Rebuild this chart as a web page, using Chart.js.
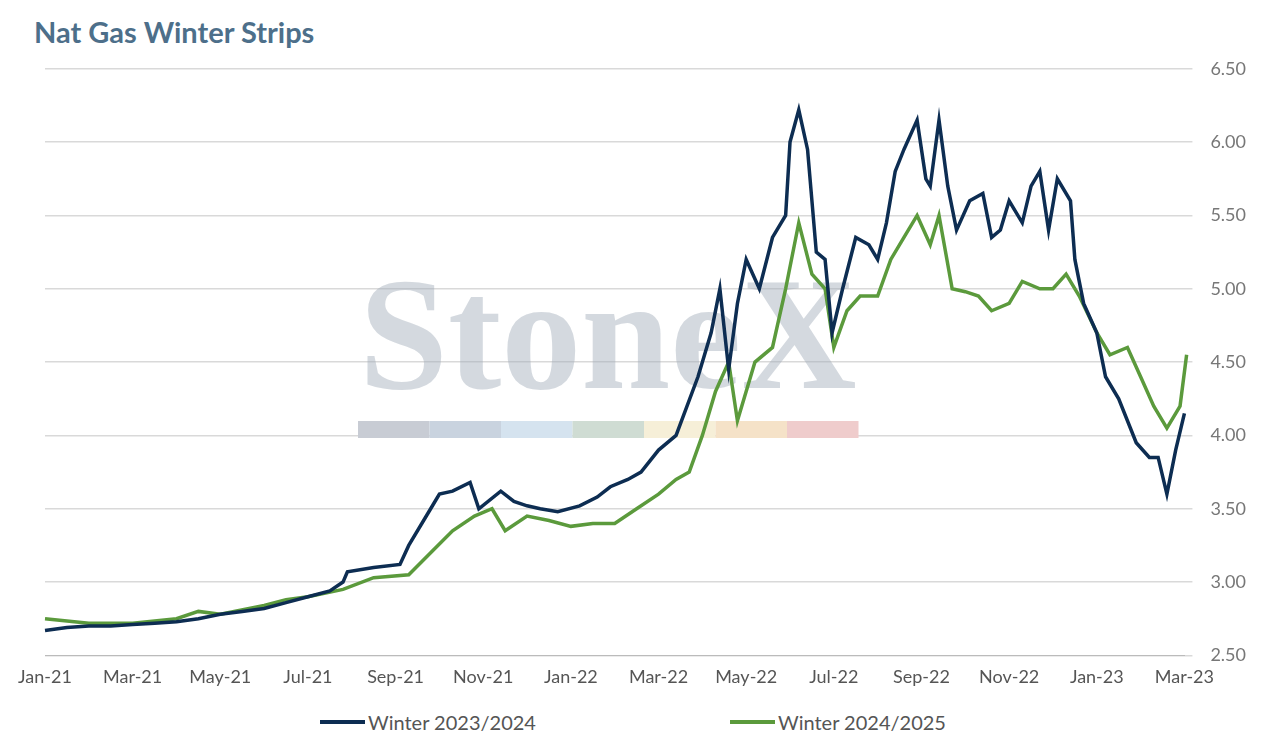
<!DOCTYPE html>
<html><head><meta charset="utf-8">
<script src="https://cdn.jsdelivr.net/npm/chart.js@4"></script>
<style>body{margin:0;background:#fff;font-family:Lato,"Open Sans",sans-serif}
#t{position:absolute;left:34px;top:14px;font:bold 29px Lato,sans-serif;color:#4d6f8a}
#w{position:absolute;left:0;top:40px;width:1274px;height:651px}
.lg{position:absolute;top:710px;font:20px Lato,sans-serif;color:#555;display:flex;align-items:center}
.lg i{display:inline-block;width:45px;height:4px;margin-right:3px}</style></head>
<body><div id="t">Nat Gas Winter Strips</div><div id="w"><canvas id="c"></canvas></div>
<div class="lg" style="left:320px"><i style="background:#0d2d52"></i><span id="l0"></span></div>
<div class="lg" style="left:730px"><i style="background:#5b9a3c"></i><span id="l1"></span></div>
<script>
const seriesNames=["Winter 2023/2024","Winter 2024/2025"];
const tickLabels=["Jan-21","Mar-21","May-21","Jul-21","Sep-21","Nov-21","Jan-22","Mar-22","May-22","Jul-22","Sep-22","Nov-22","Jan-23","Mar-23"];
const navyX=[0,0.5,1,1.5,2,2.5,3,3.5,4,4.5,5,5.5,6,6.5,6.8,6.9,7.5,8.1,8.3,8.8,9.0,9.3,9.7,9.9,10.4,10.7,11.0,11.3,11.7,12.2,12.6,12.9,13.3,13.6,14.0,14.4,14.9,15.2,15.4,15.6,15.8,16.0,16.3,16.6,16.9,17.0,17.2,17.4,17.6,17.8,17.96,18.2,18.5,18.8,19.0,19.2,19.4,19.6,19.9,20.1,20.2,20.4,20.6,20.8,21.1,21.4,21.6,21.8,22.0,22.3,22.5,22.7,22.9,23.1,23.4,23.5,23.7,24.0,24.2,24.5,24.9,25.2,25.4,25.6,25.8,26.0,26.1];
const navyY=[2.67,2.69,2.70,2.70,2.71,2.72,2.73,2.75,2.78,2.80,2.82,2.86,2.90,2.94,3.00,3.07,3.10,3.12,3.25,3.50,3.60,3.62,3.68,3.50,3.62,3.55,3.52,3.50,3.48,3.52,3.58,3.65,3.70,3.75,3.90,4.00,4.40,4.70,5.00,4.45,4.90,5.20,5.00,5.35,5.50,6.00,6.22,5.95,5.25,5.20,4.70,5.00,5.35,5.30,5.20,5.45,5.80,5.95,6.15,5.75,5.70,6.15,5.70,5.40,5.60,5.65,5.35,5.40,5.60,5.45,5.70,5.80,5.40,5.75,5.60,5.20,4.90,4.70,4.40,4.25,3.95,3.85,3.85,3.60,3.90,4.15,3.92];
const greenX=[0,1,2,3,3.5,4,5,5.5,6,6.8,7.5,8.3,8.8,9.3,9.8,10.2,10.5,11,11.5,12,12.5,13,13.5,14,14.4,14.7,15,15.3,15.6,15.8,16.2,16.6,16.9,17.2,17.5,17.8,18.0,18.3,18.6,19.0,19.3,19.6,19.9,20.2,20.4,20.7,21.0,21.3,21.6,22.0,22.3,22.7,23.0,23.3,23.6,24.0,24.3,24.7,25.0,25.3,25.6,25.9,26.05,26.15];
const greenY=[2.75,2.72,2.72,2.75,2.80,2.78,2.84,2.88,2.90,2.95,3.03,3.05,3.20,3.35,3.45,3.50,3.35,3.45,3.42,3.38,3.40,3.40,3.50,3.60,3.70,3.75,4.00,4.30,4.50,4.10,4.50,4.60,5.00,5.45,5.10,5.00,4.60,4.85,4.95,4.95,5.20,5.35,5.50,5.30,5.50,5.00,4.98,4.95,4.85,4.90,5.05,5.00,5.00,5.10,4.95,4.70,4.55,4.60,4.40,4.20,4.05,4.20,4.55,4.50];
document.getElementById('l0').textContent=seriesNames[0];document.getElementById('l1').textContent=seriesNames[1];
const pts=(xs,ys)=>xs.map((x,i)=>({x,y:ys[i]}));
const wm={id:'wm',beforeDatasetsDraw(ch){const c=ch.ctx;c.save();c.fillStyle='rgba(160,170,185,0.45)';c.font='bold 160px "Liberation Serif",serif';c.textAlign='center';c.fillText('StoneX',608,348);
const cols=['#c8ccd4','#c9d3df','#d5e3ef','#cfdcd3','#f6efd8','#f5e2c8','#efcccc'];cols.forEach((k,i)=>{c.fillStyle=k;c.fillRect(358+i*71.5,381,71.5,17)});c.restore();}};
new Chart(document.getElementById('c'),{type:'line',
data:{datasets:[{label:seriesNames[0],data:pts(navyX,navyY),borderColor:'#0d2d52',borderWidth:3.5,pointRadius:0,tension:0,clip:8},
{label:seriesNames[1],data:pts(greenX,greenY),borderColor:'#5b9a3c',borderWidth:3.5,pointRadius:0,tension:0,clip:8}]},
options:{responsive:true,maintainAspectRatio:false,animation:false,
layout:{padding:{left:45,right:10,top:0,bottom:0}},
plugins:{legend:{display:false},tooltip:{enabled:false}},
scales:{x:{type:'linear',min:0,max:26,grid:{display:false},border:{color:'#bbb'},ticks:{stepSize:2,maxRotation:0,autoSkip:false,font:{size:18,family:'Lato'},color:'#555',callback:v=>tickLabels[v/2]}},
y:{position:'right',min:2.5,max:6.5,grid:{color:'#d9d9d9',lineWidth:1.5},border:{display:false},ticks:{stepSize:0.5,padding:18,font:{size:18,family:'Lato'},color:'#777',callback:v=>v.toFixed(2)}}}},
plugins:[wm]});
</script></body></html>
